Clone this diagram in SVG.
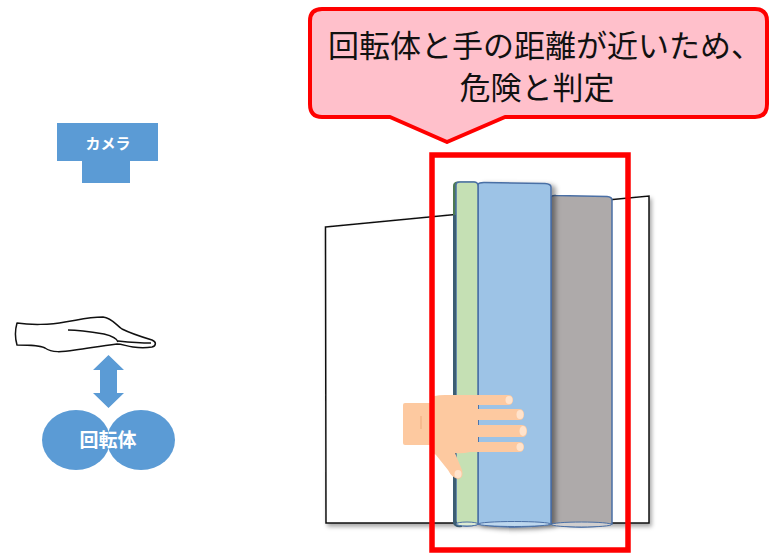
<svg xmlns="http://www.w3.org/2000/svg" width="769" height="555" viewBox="0 0 769 555">
  <defs>
    <filter id="shadow" x="-10%" y="-10%" width="130%" height="130%">
      <feDropShadow dx="2" dy="3" stdDeviation="2" flood-color="#000" flood-opacity="0.35"/>
    </filter>
    <filter id="shadowR" x="-10%" y="-10%" width="130%" height="130%">
      <feDropShadow dx="4" dy="2" stdDeviation="2.5" flood-color="#000" flood-opacity="0.4"/>
    </filter>
    <style>
      .blue { fill: #5B9BD5; }
      .wtxt { fill: #ffffff; font-family: "Noto Sans CJK JP", "Noto Sans", sans-serif; text-anchor: middle; font-weight: bold; }
      .btxt { fill: #111111; font-family: "Noto Sans CJK JP", "Noto Sans", sans-serif; text-anchor: middle; font-size: 31px; }
      .cyl { stroke: #4A6FA5; stroke-width: 1.5; }
      .skin { fill: #FDC9A0; }
      .nail { fill: #FFE3CC; }
    </style>
  </defs>

  <!-- camera -->
  <g id="camera">
    <rect class="blue" x="57" y="123" width="101" height="38"/>
    <rect class="blue" x="82" y="160" width="48" height="23"/>
    <text class="wtxt" x="108" y="149" font-size="15">カメラ</text>
  </g>

  <!-- hand outline above the rotor -->
  <g id="hand-outline" fill="#ffffff" stroke="#111111" stroke-width="1.5" stroke-linejoin="round">
    <path d="M17,323 C30,325 50,325 65,322 C78,320 88,317 103,317 C112,318 116,325 122,329 C132,334 142,337 152,340 C157,342 156,346 152,347 C146,348 140,348 133,347 C126,346 122,344 117,344 C100,346 90,348 75,350 C62,352 52,353 45,348 C40,345 30,345 17,345 C15,338 15,330 17,323 Z"/>
    <path d="M68,330 C80,330 92,332 104,334 C112,336 117,338 118,342" fill="none"/>
    <path d="M118,341 C128,342 140,343 151,343" fill="none"/>
  </g>

  <!-- double arrow -->
  <g id="connectors">
    <polygon class="blue" points="108.5,355 124,370 117,370 117,393 124,393 108.5,408 93,393 100,393 100,370 93,370"/>
  </g>

  <!-- rotor -->
  <g id="rotor">
    <ellipse class="blue" cx="76" cy="440" rx="34" ry="30"/>
    <ellipse class="blue" cx="141" cy="440" rx="34" ry="30"/>
    <text class="wtxt" x="108" y="447" font-size="19">回転体</text>
  </g>

  <!-- callout -->
  <g id="callout">
    <path d="M322,9 H755 Q767,9 767,21 V104 Q767,117 755,117 H505 L447,142 L390,117 H322 Q310,117 310,104 V21 Q310,9 322,9 Z" fill="#FFC0CB" stroke="#FF0000" stroke-width="4" stroke-linejoin="round"/>
    <text class="btxt" x="545" y="57">回転体と手の距離が近いため、</text>
    <text class="btxt" x="537" y="99">危険と判定</text>
  </g>

  <!-- panel behind the rollers -->
  <g id="panel">
    <polygon points="325.5,227 649,196 649,523 326,523" fill="#ffffff" stroke="#111111" stroke-width="1.5" filter="url(#shadow)"/>
  </g>

  <!-- rollers -->
  <g id="rollers">
    <path class="cyl" d="M551,198 Q551,195 556,195.5 L607,196.5 Q612,197 612,200 V524 Q581,530 551,524 Z" fill="#AEAAAA"/>
    <path class="cyl" d="M478,185 Q478,182.5 484,182.5 L545,183.5 Q551,184 551,187 V524 Q514,530 478,524 Z" fill="#9DC3E6" filter="url(#shadowR)"/>
    <ellipse cx="514.5" cy="524" rx="36" ry="2.5" fill="#BDD7EE" stroke="#4A6FA5" stroke-width="1"/>
    <ellipse cx="581.5" cy="524.5" rx="30" ry="2.5" fill="#D0CECE" stroke="#4A6FA5" stroke-width="1"/>
    <path d="M453,186 Q453,182 457,181.5 L474,181.5 Q478,182 478,186 V215 H453 Z" fill="#4E7A52"/>
    <path class="cyl" d="M456,185 Q456,182 460,182 L474,182 Q478,182 478,186 V524 Q466,528 456,524 Z" fill="#C5E0B4"/>
    <path d="M453,215 V523 Q454,528 462,527 L462,524 Q456,524 456,520 V215 Z" fill="#3C5E73"/>
    <ellipse cx="467" cy="524" rx="11" ry="2" fill="#DDEBD3" stroke="#4A6FA5" stroke-width="1"/>
  </g>

  <!-- hand touching the rollers -->
  <g id="hand">
    <rect class="skin" x="403" y="403" width="32" height="42" rx="2"/>
    <path class="skin" d="M430,399 Q432,395 445,395 L478,395 H508 Q513,395 513,400 Q513,405 508,405 H478 V409 H519 Q524,409 524,414.5 Q524,420 519,420 H478 V425 H522 Q527,425 527,431 Q527,437 522,437 H478 V442 H519 Q524,442 524,447 Q524,452 519,452 H470 Q462,454 455,453 L462,470 Q464,478 458,479 Q452,478 448,470 L436,455 Q430,452 430,440 Z"/>
    <ellipse class="nail" cx="509" cy="400" rx="3.5" ry="4"/>
    <ellipse class="nail" cx="520" cy="414.5" rx="3.5" ry="4.5"/>
    <ellipse class="nail" cx="523" cy="431" rx="3.5" ry="5"/>
    <ellipse class="nail" cx="520" cy="447" rx="3.5" ry="4"/>
    <ellipse class="nail" cx="458" cy="474" rx="3.5" ry="4"/>
    <path d="M421,416 V429" stroke="#F0B080" stroke-width="1.2" fill="none"/>
  </g>

  <!-- detection frame -->
  <g id="frame">
    <rect x="432" y="155" width="196" height="395" fill="none" stroke="#FF0000" stroke-width="5.5"/>
  </g>
</svg>
